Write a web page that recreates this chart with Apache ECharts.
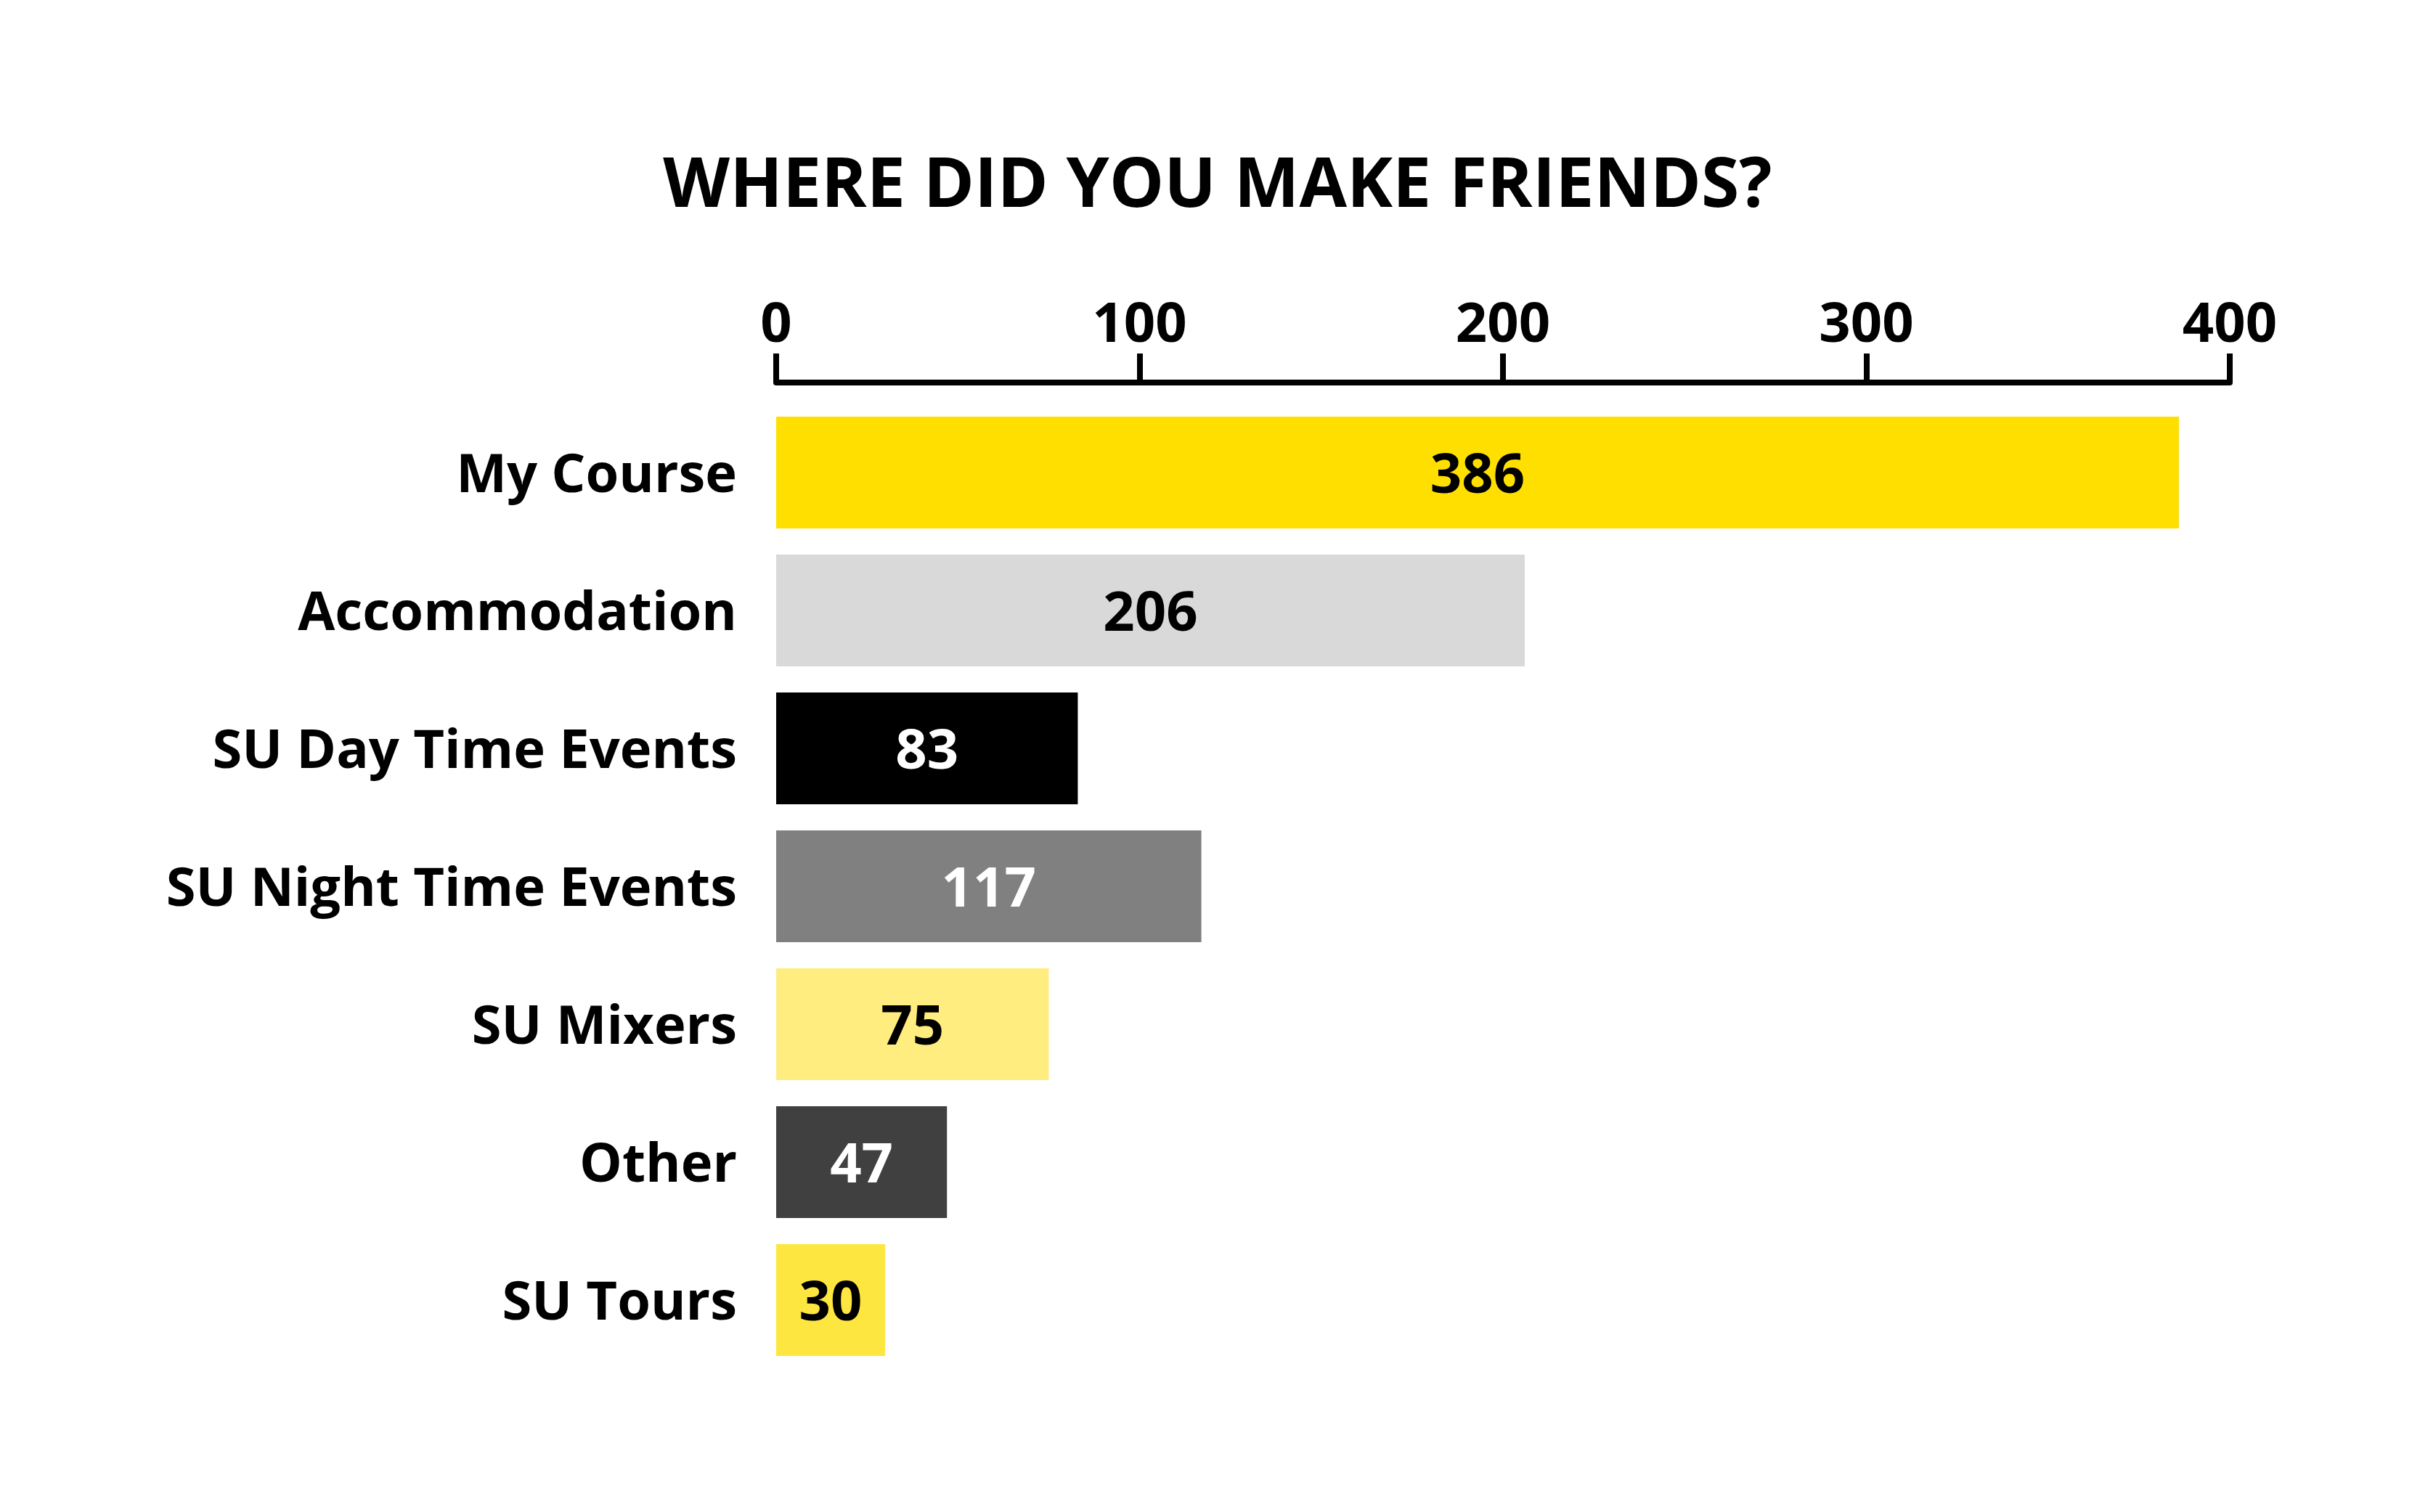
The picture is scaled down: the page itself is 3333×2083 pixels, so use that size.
<!DOCTYPE html>
<html>
<head>
<meta charset="utf-8">
<title>Where did you make friends?</title>
<script src="https://cdn.jsdelivr.net/npm/echarts@6/dist/echarts.min.js"></script>
<style>
  html, body { margin: 0; padding: 0; background: #ffffff; }
  #chart { width: 3333px; height: 2083px; }
</style>
</head>
<body>
<div id="chart"></div>
<script>
var categories = ['My Course', 'Accommodation', 'SU Day Time Events', 'SU Night Time Events', 'SU Mixers', 'Other', 'SU Tours'];
var values = [386, 206, 83, 117, 75, 47, 30];
var barColors = ['#FFDF00', '#D9D9D9', '#000000', '#808080', '#FFED80', '#404040', '#FEE640'];
var labelColors = ['#000000', '#000000', '#ffffff', '#ffffff', '#000000', '#ffffff', '#000000'];

var font = '"Open Sans", "DejaVu Sans", sans-serif';

var myChart = echarts.init(document.getElementById('chart'));

var option = {
    backgroundColor: '#ffffff',
    title: {
        text: 'WHERE DID YOU MAKE FRIENDS?',
        left: 1672,
        textAlign: 'center',
        top: 205,
        textStyle: {
            fontFamily: font,
            fontWeight: 'bold',
            fontSize: 95,
            color: '#000000'
        }
    },
    grid: {
        left: 1069,
        right: 3333 - 3071,
        top: 556,
        bottom: 2083 - 1886,
        containLabel: false
    },
    xAxis: {
        type: 'value',
        position: 'top',
        offset: 29,
        min: 0,
        max: 400,
        interval: 100,
        axisLine: { show: true, lineStyle: { color: '#000000', width: 8 } },
        axisTick: { show: true, length: 40, lineStyle: { color: '#000000', width: 8 } },
        axisLabel: {
            margin: 40,
            fontFamily: font,
            fontWeight: 'bold',
            fontSize: 76,
            color: '#000000'
        },
        splitLine: { show: false }
    },
    yAxis: {
        type: 'category',
        inverse: true,
        data: categories,
        axisLine: { show: false },
        axisTick: { show: false },
        axisLabel: {
            margin: 54,
            verticalAlign: 'top',
            lineHeight: 12,
            fontFamily: font,
            fontWeight: 'bold',
            fontSize: 74,
            color: '#000000'
        }
    },
    series: [{
        type: 'bar',
        barWidth: 154,
        data: values.map(function (v, i) {
            return {
                value: v,
                itemStyle: { color: barColors[i] },
                label: { color: labelColors[i] }
            };
        }),
        label: {
            show: true,
            position: 'inside',
            offset: [0, 6],
            fontFamily: font,
            fontWeight: 'bold',
            fontSize: 76
        },
        animation: false
    }]
};

myChart.setOption(option);
</script>
</body>
</html>
